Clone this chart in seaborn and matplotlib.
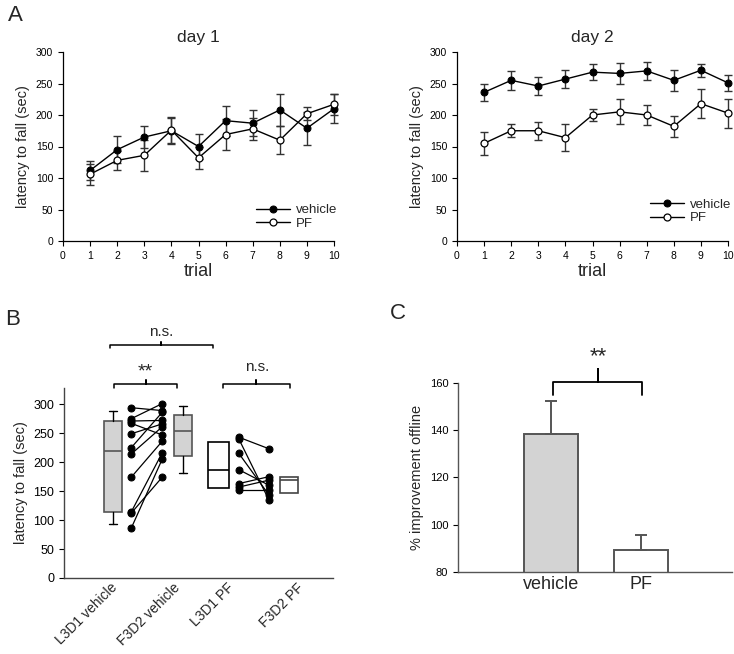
import numpy as np
import pandas as pd
import matplotlib
matplotlib.use("Agg")
import matplotlib.pyplot as plt
import seaborn as sns

sns.set_theme(style="ticks")
plt.rcParams["font.family"] = ["Liberation Sans", "DejaVu Sans"]

# ---------------- data ----------------
trials = [1, 2, 3, 4, 5, 6, 7, 8, 9, 10]

day1_vehicle = [112, 145, 165, 175, 150, 191, 187, 208, 179, 210]
day1_vehicle_sem = [15, 21, 17, 21, 20, 24, 21, 26, 26, 23]
day1_pf = [106, 128, 136, 176, 132, 169, 178, 160, 202, 217]
day1_pf_sem = [17, 15, 25, 21, 18, 24, 18, 22, 10, 17]

day2_vehicle = [236, 255, 246, 257, 268, 266, 270, 255, 271, 251]
day2_vehicle_sem = [13, 15, 15, 14, 13, 17, 14, 17, 10, 13]
day2_pf = [155, 175, 175, 164, 200, 205, 200, 182, 218, 203]
day2_pf_sem = [18, 10, 14, 21, 9, 20, 16, 17, 23, 23]

box_labels = ["L3D1 vehicle", "F3D2 vehicle", "L3D1 PF", "F3D2 PF"]
# whislo, q1, median, q3, whishi
box_stats = [
    [94, 114, 219, 271, 288],
    [182, 210, 254, 282, 297],
    [156, 156, 187, 234, 234],
    [147, 147, 169, 175, 175],
]

veh_l3d1 = [294, 275, 271, 267, 249, 225, 214, 174, 114, 112, 86]
veh_f3d2 = [289, 301, 272, 247, 266, 286, 261, 236, 216, 174, 205]
pf_l3d1 = [243, 240, 215, 187, 163, 157, 152]
pf_f3d2 = [223, 134, 143, 160, 175, 169, 152]

c_groups = ["vehicle", "PF"]
c_values = [138.3, 89.3]
c_sem = [13.9, 6.2]

W, H = 734, 654
fig = plt.figure(figsize=(W / 100, H / 100), dpi=100)


def px_axes(left, top, right, bottom):
    return fig.add_axes([left / W, 1 - bottom / H, (right - left) / W, (bottom - top) / H])


# =====================================
# A. day 1 / day 2
# =====================================
def panel_a(ax, title, veh, veh_sem, pf, pf_sem, legend_y):
    ax.errorbar(trials, veh, yerr=veh_sem, fmt="none", ecolor="#333333",
                elinewidth=1, capsize=3, capthick=1, clip_on=False, zorder=2)
    ax.errorbar(trials, pf, yerr=pf_sem, fmt="none", ecolor="#333333",
                elinewidth=1, capsize=3, capthick=1, clip_on=False, zorder=2)
    sns.lineplot(x=trials, y=veh, ax=ax, color="black", lw=1, marker="o",
                 markersize=5, markerfacecolor="black", markeredgecolor="black",
                 label="vehicle", clip_on=False, zorder=3)
    sns.lineplot(x=trials, y=pf, ax=ax, color="black", lw=1, marker="o",
                 markersize=5, markerfacecolor="white", markeredgecolor="black",
                 markeredgewidth=0.9, label="PF", clip_on=False, zorder=3)
    ax.set_xlim(0, 10)
    ax.set_ylim(0, 300)
    ax.set_xticks(range(0, 11))
    ax.set_yticks(range(0, 301, 50))
    ax.tick_params(labelsize=7.5, length=3.5, width=0.8, colors="black")
    ax.set_xlabel("trial", fontsize=13, labelpad=2)
    ax.set_ylabel("latency to fall (sec)", fontsize=10.5)
    ax.set_title(title, fontsize=12.5, pad=7)
    for s in ["top", "right"]:
        ax.spines[s].set_visible(False)
    for s in ["left", "bottom"]:
        ax.spines[s].set_color("black")
        ax.spines[s].set_linewidth(0.9)
    ax.legend(loc="lower right", bbox_to_anchor=(1.03, legend_y), frameon=False,
              fontsize=9.5, handlelength=2.6, handletextpad=0.4, labelspacing=0.1,
              borderaxespad=0)


ax1 = px_axes(63, 52, 334, 241)
panel_a(ax1, "day 1", day1_vehicle, day1_vehicle_sem, day1_pf, day1_pf_sem, 0.03)
ax2 = px_axes(457, 52, 728, 241)
panel_a(ax2, "day 2", day2_vehicle, day2_vehicle_sem, day2_pf, day2_pf_sem, 0.06)

# =====================================
# B. box plots with paired lines
# =====================================
axb = px_axes(64, 388, 333, 578)
box_pos = [0.73, 1.77, 2.30, 3.35]
box_w = [0.27, 0.27, 0.31, 0.27]
stats = []
for lab, st in zip(box_labels, box_stats):
    stats.append(dict(label=lab, whislo=st[0], q1=st[1], med=st[2], q3=st[3], whishi=st[4]))
bp = axb.bxp(stats, positions=box_pos, widths=box_w, patch_artist=True,
             showfliers=False, capwidths=[0.11, 0.11, 0.0, 0.0], manage_ticks=False)
fills = ["#d3d3d3", "#d3d3d3", "white", "white"]
edges = ["#555555", "#555555", "black", "#444444"]
for i, box in enumerate(bp["boxes"]):
    box.set_facecolor(fills[i])
    box.set_edgecolor(edges[i])
    box.set_linewidth(1.2)
    bp["medians"][i].set_color(edges[i])
    bp["medians"][i].set_linewidth(1.2)
for ln in bp["whiskers"] + bp["caps"]:
    ln.set_color("black")
    ln.set_linewidth(1)

pairs = pd.DataFrame({
    "subject": list(range(len(veh_l3d1))) * 2,
    "x": [1.0] * len(veh_l3d1) + [1.46] * len(veh_f3d2),
    "y": veh_l3d1 + veh_f3d2,
})
pairs_pf = pd.DataFrame({
    "subject": [100 + i for i in range(len(pf_l3d1))] * 2,
    "x": [2.60] * len(pf_l3d1) + [3.05] * len(pf_f3d2),
    "y": pf_l3d1 + pf_f3d2,
})
for df in [pairs, pairs_pf]:
    sns.lineplot(data=df, x="x", y="y", units="subject", estimator=None, ax=axb,
                 color="black", lw=0.9, marker="o", markersize=5,
                 markerfacecolor="black", markeredgecolor="black")

axb.set_xlim(0, 4)
axb.set_ylim(0, 328)
axb.set_yticks(range(0, 301, 50))
axb.set_xticks([0.684, 1.62, 2.42, 3.46])
axb.set_xticklabels(box_labels, rotation=45, ha="right", va="top",
                    rotation_mode="anchor", fontsize=10)
axb.tick_params(axis="x", length=0, pad=2)
axb.tick_params(axis="y", labelsize=9, length=3.5, width=0.8, colors="black")
axb.set_xlabel("")
axb.set_ylabel("latency to fall (sec)", fontsize=10.5)
for s in ["top", "right"]:
    axb.spines[s].set_visible(False)
for s in ["left", "bottom"]:
    axb.spines[s].set_color("#444444")
    axb.spines[s].set_linewidth(1)


def bracket(ax, x0, x1, y, yend, ynub, xm=None, lw=1.1):
    if xm is None:
        xm = (x0 + x1) / 2
    ax.plot([x0, x0, xm, xm, xm, x1, x1], [yend, y, y, ynub, y, y, yend],
            color="black", lw=lw, clip_on=False, solid_joinstyle="round")


bracket(axb, 0.684, 2.215, 402.9, 396.6, 407.4)
axb.text(1.45, 424.6, "n.s.", ha="center", va="center", fontsize=11)
bracket(axb, 0.744, 1.68, 334.5, 327.6, 342.6)
axb.text(1.21, 356, "**", ha="center", va="center", fontsize=14)
bracket(axb, 2.364, 3.36, 334.5, 327.6, 342.6)
axb.text(2.87, 364.7, "n.s.", ha="center", va="center", fontsize=11)

# =====================================
# C. % improvement offline
# =====================================
axc = px_axes(458, 383, 732, 572)
sns.barplot(x=c_groups, y=c_values, hue=c_groups, palette=["#d3d3d3", "white"],
            width=0.6, edgecolor="#555555", linewidth=1.4, legend=False, ax=axc)
axc.errorbar([0, 1], c_values, yerr=[[0, 0], c_sem], fmt="none", ecolor="#555555",
             elinewidth=1.4, capsize=4.5, capthick=1.4, zorder=1)
axc.set_xlim(-1.033, 2.011)
axc.set_ylim(80, 160)
axc.set_yticks(range(80, 161, 20))
axc.tick_params(axis="y", labelsize=8, length=3.5, width=0.8, colors="black")
axc.tick_params(axis="x", labelsize=13, length=0, pad=3)
axc.set_ylabel("% improvement offline", fontsize=10.5)
axc.set_xlabel("")
for s in ["top", "right"]:
    axc.spines[s].set_visible(False)
for s in ["left", "bottom"]:
    axc.spines[s].set_color("#555555")
    axc.spines[s].set_linewidth(1)
bracket(axc, 0.02, 1.008, 160.4, 154.8, 166.0, xm=0.526, lw=1.3)
axc.text(0.526, 166.5, "**", ha="center", va="bottom", fontsize=16)

# panel letters
fig.text(8 / W, 1 - 5 / H, "A", fontsize=16, va="top", ha="left")
fig.text(5 / W, 1 - 309 / H, "B", fontsize=16, va="top", ha="left")
fig.text(390 / W, 1 - 303 / H, "C", fontsize=16, va="top", ha="left")

fig.savefig("out.png", dpi=100)
